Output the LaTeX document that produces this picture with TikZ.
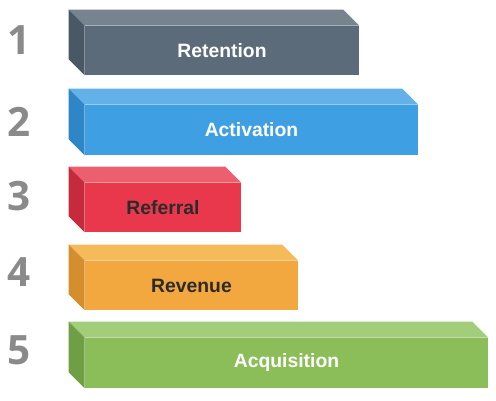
\documentclass[tikz,border=0pt]{standalone}
\usepackage{fontspec}
\setmainfont{Liberation Sans}
\newfontfamily\numfont{Open Sans}
\usetikzlibrary{calc}
\definecolor{retFront}{HTML}{5B6B7A}
\definecolor{retTop}{HTML}{76848F}
\definecolor{retSide}{HTML}{4A5866}
\definecolor{actFront}{HTML}{3E9FE2}
\definecolor{actTop}{HTML}{62B2E9}
\definecolor{actSide}{HTML}{2E86C6}
\definecolor{refFront}{HTML}{E9384B}
\definecolor{refTop}{HTML}{EC5F6E}
\definecolor{refSide}{HTML}{C52B3D}
\definecolor{revFront}{HTML}{F2A73F}
\definecolor{revTop}{HTML}{F5BA5A}
\definecolor{revSide}{HTML}{D58E2D}
\definecolor{acqFront}{HTML}{8BBE58}
\definecolor{acqTop}{HTML}{A2CD7B}
\definecolor{acqSide}{HTML}{6E9F45}
\definecolor{numGray}{HTML}{8A8A8A}
\definecolor{darkText}{HTML}{2B2B2B}

\begin{document}
\begin{tikzpicture}[x=0.02cm,y=-0.02cm,
  font=\bfseries\fontsize{11}{13}\selectfont,
  front/.style={rectangle,inner sep=0pt,minimum height=0.98cm},
  num/.style={font=\numfont\bfseries\fontsize{23}{26}\selectfont,text=numGray}]
\useasboundingbox (0,0) rectangle (496,401);
% --- front faces of the bars ---
  \node[front,fill=retFront,minimum width=5.48cm,text=white] (ret) at (222,50.5) {Retention};
  \node[front,fill=actFront,minimum width=6.66cm,minimum height=1cm,text=white] (act) at (251.5,130) {Activation};
  \node[front,fill=refFront,minimum width=3.12cm,text=darkText] (ref) at (163,207.5) {Referral};
  \node[front,fill=revFront,minimum width=4.26cm,text=darkText] (rev) at (191.5,285.5) {Revenue};
  \node[front,fill=acqFront,minimum width=8.06cm,minimum height=1cm,text=white] (acq) at (286.5,363) {Acquisition};
  % top and left faces
  \foreach \b in {ret,act,ref,rev,acq}{
    \fill[\b Top] (\b.north west) -- ++(-16,-16) -- ($(\b.north east)+(-16,-16)$) -- (\b.north east) -- cycle;
    \fill[\b Side] (\b.north west) -- ++(-16,-16) -- ($(\b.south west)+(-16,-16)$) -- (\b.south west) -- cycle;
  }
% --- step numbers ---
  \node[num] (n1) at (19,40) {1};
  \node[num] (n2) at (19,122) {2};
  \node[num] (n3) at (19,196) {3};
  \node[num] (n4) at (19,272) {4};
  \node[num] (n5) at (19,350) {5};
\end{tikzpicture}
\end{document}
